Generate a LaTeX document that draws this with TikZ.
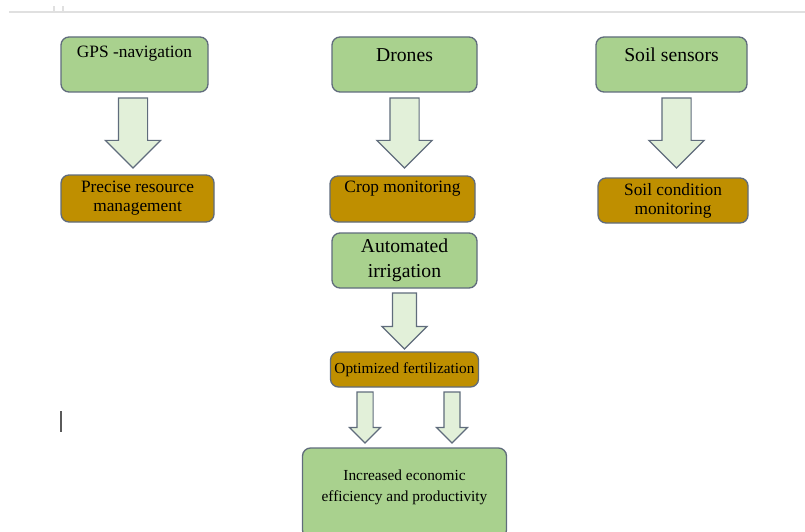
\documentclass[tikz,border=0pt]{standalone}
\usepackage{fontspec}
\setmainfont{Liberation Serif}
\usepackage{tikz}
\usepackage{xcolor}
\usetikzlibrary{positioning,shapes.arrows}
\definecolor{techgreen}{RGB}{169,209,142}
\definecolor{resultgold}{RGB}{191,143,0}
\definecolor{arrowmint}{RGB}{226,240,217}
\definecolor{outlinegray}{RGB}{96,108,124}
\definecolor{pageline}{RGB}{224,224,224}
\definecolor{cursorgray}{RGB}{90,90,90}

\begin{document}
\begin{tikzpicture}[
    x=0.75pt,y=-0.75pt,
    tech/.style={rectangle,rounded corners=6pt,draw=outlinegray,fill=techgreen,line width=1pt,
      inner sep=0pt,outer sep=0pt,align=center,minimum height=41.25pt},
    effect/.style={rectangle,rounded corners=6pt,draw=outlinegray,fill=resultgold,line width=1pt,
      inner sep=0pt,outer sep=0pt,align=center},
    flow/.style={single arrow,shape border rotate=270,draw=outlinegray,fill=arrowmint,
      line width=0.9pt,outer sep=0pt,single arrow head indent=0pt},
    textbig/.style={font=\fontsize{14.75}{18.75}\selectfont},
    textmid/.style={font=\fontsize{13}{14.25}\selectfont},
    textsmall/.style={font=\fontsize{11.5}{15.75}\selectfont}
  ]
    \useasboundingbox (0,0) rectangle (805,531);
    \draw[pageline,line width=1.1pt] (9,12) -- (805,12);
    \draw[pageline,line width=0.8pt] (54,6) -- (54,12) -- (63,12) -- (63,6);

    \node[tech,textmid,anchor=north west,minimum width=110.25pt,text height=15.75pt,text depth=25.5pt]
      (gps) at (61,37) {GPS -navigation};
    \node[tech,textbig,right=93pt of gps,minimum width=108.75pt,text height=18.75pt,text depth=22.5pt]
      (drones) {Drones};
    \node[tech,textbig,right=89.25pt of drones,minimum width=113.25pt,text height=18.75pt,text depth=22.5pt]
      (sensors) {Soil sensors};

    \node[flow,below=4.5pt of gps,anchor=tail,xshift=-1.1pt,minimum height=52.5pt,inner sep=10.5pt,
      single arrow head extend=9.75pt] (gpsflow) {};
    \node[flow,below=4.5pt of drones,anchor=tail,minimum height=52.5pt,inner sep=10.5pt,
      single arrow head extend=9.75pt] (dronesflow) {};
    \node[flow,below=4.5pt of sensors,anchor=tail,xshift=3.75pt,minimum height=52.5pt,inner sep=10.5pt,
      single arrow head extend=9.75pt] (sensorsflow) {};

    \node[effect,textmid,below=5.25pt of gpsflow.tip,xshift=3.4pt,minimum width=114.75pt,minimum height=35.25pt]
      (precise) {Precise resource\\management};
    \node[effect,textmid,below=6pt of dronesflow.tip,xshift=-1.5pt,minimum width=108.75pt,
      text height=12pt,text depth=22.5pt] (crop) {Crop monitoring};
    \node[effect,textmid,below=7.5pt of sensorsflow.tip,xshift=-2.6pt,minimum width=112.5pt,minimum height=33.75pt]
      (soilmon) {Soil condition\\monitoring};

    \node[tech,textbig,below=8.25pt of crop,xshift=1.5pt,minimum width=108.75pt] (irrig) {Automated\\irrigation};
    \node[flow,below=3.75pt of irrig,anchor=tail,minimum height=42pt,inner sep=8.6pt,
      single arrow head extend=7.9pt] (irrigflow) {};
    \node[effect,textsmall,below=2.25pt of irrigflow.tip,minimum width=111pt,minimum height=26.25pt]
      (fert) {Optimized fertilization};

    \node[flow,below=3.75pt of fert,anchor=tail,xshift=-29.6pt,minimum height=38.25pt,inner sep=5.6pt,
      single arrow head extend=5.6pt] (leftflow) {};
    \node[flow,below=3.75pt of fert,anchor=tail,xshift=35.6pt,minimum height=38.25pt,inner sep=5.6pt,
      single arrow head extend=5.6pt] (rightflow) {};

    \node[tech,textsmall,below=45.75pt of fert,minimum width=153pt,text height=39.75pt,text depth=27.75pt]
      (result) {Increased economic\\efficiency and productivity};

    \draw[cursorgray,line width=1pt] (61,411) -- (61,432);
  \end{tikzpicture}
\end{document}
